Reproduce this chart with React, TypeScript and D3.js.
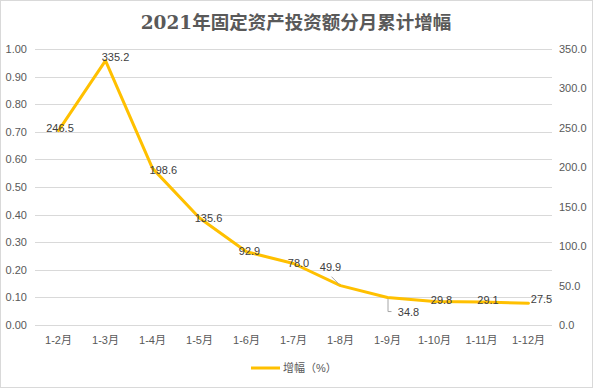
import React, { useEffect, useRef } from 'react';
import * as d3 from 'd3';

const title = '2021年固定资产投资额分月累计增幅';
const categories = ['1-2月', '1-3月', '1-4月', '1-5月', '1-6月', '1-7月', '1-8月', '1-9月', '1-10月', '1-11月', '1-12月'];
const growth = [246.5, 335.2, 198.6, 135.6, 92.9, 78.0, 49.9, 34.8, 29.8, 29.1, 27.5];
const leftTicks = [0, 0.1, 0.2, 0.3, 0.4, 0.5, 0.6, 0.7, 0.8, 0.9, 1.0];
const rightTicks = [0, 50, 100, 150, 200, 250, 300, 350];
const seriesName = '增幅（%）';

// label placement (relative to the point), as in the source chart
const labelOffsets: [number, number][] = [
  [1.5, -2.5], [10, -3.7], [10.8, 1.6], [9, 0], [3, -1], [5, -0.5],
  [-10, -19], [21, 14], [7, -1.5], [6.5, -2], [13, -4]
];

export default function App() {
  const svgRef = useRef<SVGSVGElement>(null);
  const width = 593;
  const height = 388;

  useEffect(() => {
    if (!svgRef.current) return;
    const svg = d3.select(svgRef.current);
    svg.selectAll('*').remove();

    const left = 35, right = 552, top = 49, bottom = 325;
    const font = '"Liberation Sans", "Noto Sans CJK SC", sans-serif';

    const x = d3.scalePoint<string>().domain(categories).range([left, right]).padding(0.5);
    const yL = d3.scaleLinear().domain([0, 1]).range([bottom, top]);
    const yR = d3.scaleLinear().domain([0, 350]).range([bottom, top]);

    svg.append('rect')
      .attr('x', 0.5).attr('y', 0.5)
      .attr('width', width - 1).attr('height', height - 1)
      .attr('fill', '#fff').attr('stroke', '#d9d9d9');

    svg.append('text')
      .attr('x', 296).attr('y', 22)
      .attr('text-anchor', 'middle').attr('dominant-baseline', 'central')
      .attr('font-family', '"DejaVu Serif", "Noto Sans CJK SC", serif')
      .attr('font-size', 18.5).attr('font-weight', 'bold')
      .attr('fill', '#595959')
      .text(title);

    // gridlines + left axis
    svg.append('g').selectAll('line')
      .data(leftTicks).enter().append('line')
      .attr('x1', left).attr('x2', right)
      .attr('y1', d => Math.round(yL(d)) + 0.5).attr('y2', d => Math.round(yL(d)) + 0.5)
      .attr('stroke', '#d9d9d9').attr('stroke-width', 1);

    svg.append('g').selectAll('text')
      .data(leftTicks).enter().append('text')
      .attr('x', 27).attr('y', d => yL(d))
      .attr('text-anchor', 'end').attr('dominant-baseline', 'central')
      .attr('font-family', font).attr('font-size', 11).attr('fill', '#595959')
      .text(d => d.toFixed(2));

    svg.append('g').selectAll('text')
      .data(rightTicks).enter().append('text')
      .attr('x', 559).attr('y', d => yR(d))
      .attr('dominant-baseline', 'central')
      .attr('font-family', font).attr('font-size', 11).attr('fill', '#595959')
      .text(d => d.toFixed(1));

    svg.append('g').selectAll('text')
      .data(categories).enter().append('text')
      .attr('x', d => x(d)!).attr('y', 340)
      .attr('text-anchor', 'middle').attr('dominant-baseline', 'central')
      .attr('font-family', font).attr('font-size', 11).attr('fill', '#595959')
      .text(d => d);

    const line = d3.line<number>()
      .x((_, i) => x(categories[i])!)
      .y(d => yR(d));

    svg.append('path')
      .datum(growth)
      .attr('d', line)
      .attr('fill', 'none')
      .attr('stroke', '#FFC000')
      .attr('stroke-width', 3)
      .attr('stroke-linejoin', 'round')
      .attr('stroke-linecap', 'round');

    // leader lines for moved labels
    const p7 = [x(categories[6])!, yR(growth[6])];
    const p8 = [x(categories[7])!, yR(growth[7])];
    svg.append('path')
      .attr('d', `M${p7[0] - 9},${p7[1] - 9}L${p7[0] - 1},${p7[1] - 1}`)
      .attr('fill', 'none').attr('stroke', '#a6a6a6');
    svg.append('path')
      .attr('d', `M${p8[0] + 0.5},${p8[1] + 1}V${p8[1] + 14}H${p8[0] + 4}`)
      .attr('fill', 'none').attr('stroke', '#a6a6a6');

    svg.append('g').selectAll('text')
      .data(growth).enter().append('text')
      .attr('x', (d, i) => x(categories[i])! + labelOffsets[i][0])
      .attr('y', (d, i) => yR(d) + labelOffsets[i][1])
      .attr('text-anchor', 'middle').attr('dominant-baseline', 'central')
      .attr('font-family', font).attr('font-size', 11).attr('fill', '#404040')
      .text(d => d.toFixed(1));

    // legend
    svg.append('line')
      .attr('x1', 251).attr('x2', 280).attr('y1', 368).attr('y2', 368)
      .attr('stroke', '#FFC000').attr('stroke-width', 3);
    svg.append('text')
      .attr('x', 283).attr('y', 368)
      .attr('dominant-baseline', 'central')
      .attr('font-family', font).attr('font-size', 11).attr('fill', '#595959')
      .text(seriesName);
  }, []);

  return (
    <svg
      ref={svgRef}
      width={width}
      height={height}
      style={{ position: 'fixed', left: 0, top: 0, display: 'block' }}
    />
  );
}
